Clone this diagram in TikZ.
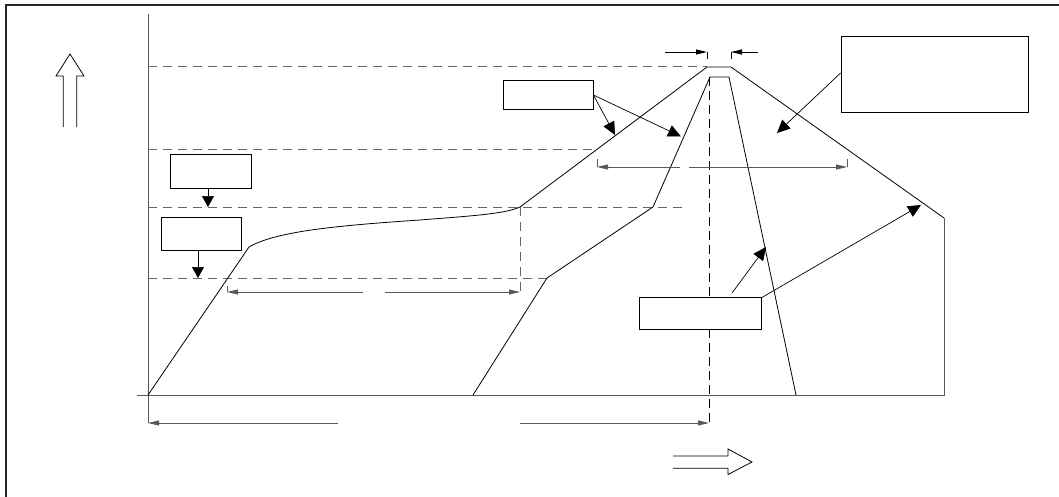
\documentclass[tikz,border=0pt]{standalone}
\usetikzlibrary{arrows.meta}
\begin{document}
\begin{tikzpicture}[x=1pt,y=-1pt,
  axisline/.style={line width=0.9pt,draw=black!65},
  curveline/.style={line width=0.8pt,draw=black},
  guide/.style={line width=1pt,draw=black!60,dash pattern=on 9pt off 6pt},
  centreline/.style={line width=0.8pt,draw=black,dash pattern=on 9pt off 5pt},
  dimline/.style={line width=0.9pt,draw=black!65},
  dimtip/.style={-{Triangle[length=11pt,width=5pt]},line width=0.9pt,draw=black!65},
  callout/.style={-{Triangle[length=13pt,width=12pt]},line width=0.7pt},
  downtip/.style={-{Triangle[length=11pt,width=12pt]},line width=0.7pt},
  labelbox/.style={draw=black,line width=0.8pt,fill=white,inner sep=0pt,minimum width=#1},
]
\useasboundingbox (0,0) rectangle (1059,497);
\fill[white] (0,0) rectangle (1059,497);
% frame
\draw[line width=2pt,draw=black!85] (6,5) rectangle (1080,515);

% guide lines
\draw[guide] (148,67) -- (707,67);
\draw[guide] (148,150) -- (596,150);
\draw[guide] (148,207) -- (683,207);
\draw[guide] (148,278) -- (547,278);
\draw[guide] (520,207) -- (520,296);
\draw[centreline] (709,77) -- (709,424);

% axes
\draw[axisline] (148,14) -- (148,423);
\draw[axisline] (137,395) -- (944,395) -- (944,218);

% outer curve
\draw[curveline] (148,395) -- (249,247) .. controls (275,232) and (330,226) .. (420,220)
  .. controls (470,216) and (505,214) .. (520,207) -- (707,67) -- (731,67) -- (944,218);
% inner curve
\draw[curveline] (473,395) -- (547,278) -- (653,207) -- (710,77) -- (729,77) -- (796,395);

% hollow arrows
\draw[line width=0.8pt] (63.3,127) -- (63.3,76) -- (56,76) -- (70,54) -- (84,76) -- (76.7,76) -- (76.7,127);
\draw[line width=0.8pt] (673,456) -- (728,456) -- (728,449) -- (752,462) -- (728,474.5) -- (728,468.3) -- (673,468.3);

% dimension: peak width
\coordinate (pkL) at (707,52);
\coordinate (pkR) at (731,52);
\coordinate (pkLs) at (665,52);
\coordinate (pkRs) at (758,52);
\draw[dimline,draw=black] (707,52) -- (707,59);
\draw[dimline,draw=black] (731,52) -- (731,59);
\draw[dimtip,draw=black] (pkLs) -- (pkL);
\draw[dimtip,draw=black] (pkRs) -- (pkR);

% dimension: upper span
\coordinate (usL) at (597,167);
\coordinate (usR) at (847,167);
\coordinate (usGL) at (680,167);
\coordinate (usGR) at (689,167);
\draw[dimline] (597,159) -- (usL);
\draw[dimline] (847,159) -- (usR);
\draw[dimtip] (usGL) -- (usL);
\draw[dimtip] (usGR) -- (usR);

% dimension: lower-left span
\coordinate (lsL) at (227,292);
\coordinate (lsR) at (520,292);
\coordinate (lsGL) at (363,292);
\coordinate (lsGR) at (385,292);
\draw[dimline] (227,286) -- (lsL);
\draw[dimtip] (lsGL) -- (lsL);
\draw[dimtip] (lsGR) -- (lsR);

% dimension: bottom span
\coordinate (bsL) at (148,423);
\coordinate (bsR) at (709,423);
\coordinate (bsGL) at (338,423);
\coordinate (bsGR) at (520,423);
\draw[dimtip] (bsGL) -- (bsL);
\draw[dimtip] (bsGR) -- (bsR);

% boxes
\node[labelbox=81pt,minimum height=34pt] (boxA) at (210.5,171) {};
\node[labelbox=80pt,minimum height=33pt] (boxB) at (201,233.5) {};
\node[labelbox=90pt,minimum height=28.5pt] (boxT) at (548,95) {};
\node[labelbox=187pt,minimum height=76.5pt] (boxR) at (934.5,74.5) {};
\node[labelbox=122.5pt,minimum height=31.5pt] (boxM) at (700.5,313.5) {};

% callout arrows
\coordinate (tA) at (208,207);
\coordinate (tB) at (198,278);
\draw[downtip] ([xshift=-2.5pt]boxA.south) -- (tA);
\draw[downtip] ([xshift=-3pt]boxB.south) -- (tB);

\coordinate (tT1) at (615,135);
\coordinate (tT2) at (681,136.5);
\draw[callout] (boxT.east) -- (tT1);
\draw[callout] (boxT.east) -- (tT2);

\coordinate (tR) at (777,133);
\draw[callout] ([yshift=1.5pt]boxR.west) -- (tR);

\coordinate (sM) at (732,293);
\coordinate (tM1) at (766,247);
\coordinate (tM2) at (921,205);
\draw[callout] (sM) -- (tM1);
\draw[callout] (boxM.north east) -- (tM2);
\end{tikzpicture}
\end{document}
